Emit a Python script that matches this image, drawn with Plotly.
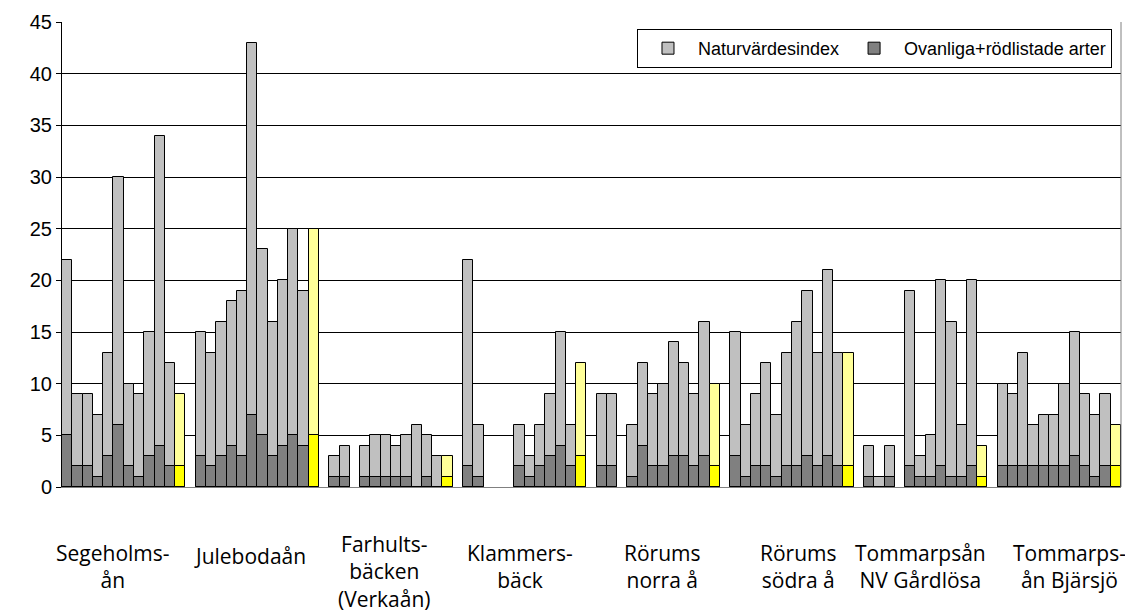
import plotly.graph_objects as go

# Naturvärdesindex / Ovanliga+rödlistade arter per lokal, None = tom plats
group_names = [
    "Segeholms-<br>ån",
    "Julebodaån",
    "Farhults-<br>bäcken<br>(Verkaån)",
    "Klammers-<br>bäck",
    "Rörums<br>norra å",
    "Rörums<br>södra å",
    "Tommarpsån<br>NV Gårdlösa",
    "Tommarps-<br>ån Bjärsjö",
]

seg_index = [22, 9, 9, 7, 13, 30, 10, 9, 15, 34, 12, 9]
seg_arter = [5, 2, 2, 1, 3, 6, 2, 1, 3, 4, 2, 2]
jul_index = [15, 13, 16, 18, 19, 43, 23, 16, 20, 25, 19, 25]
jul_arter = [3, 2, 3, 4, 3, 7, 5, 3, 4, 5, 4, 5]
far_index = [3, 4, None, 4, 5, 5, 4, 5, 6, 5, 3, 3]
far_arter = [1, 1, None, 1, 1, 1, 1, 1, 0, 1, 0, 1]
kla_index = [22, 6, None, None, None, 6, 3, 6, 9, 15, 6, 12]
kla_arter = [2, 1, None, None, None, 2, 1, 2, 3, 4, 2, 3]
rno_index = [9, 9, None, 6, 12, 9, 10, 14, 12, 9, 16, 10]
rno_arter = [2, 2, None, 1, 4, 2, 2, 3, 3, 2, 3, 2]
rso_index = [15, 6, 9, 12, 7, 13, 16, 19, 13, 21, 13, 13]
rso_arter = [3, 1, 2, 2, 1, 2, 2, 3, 2, 3, 2, 2]
tnv_index = [4, 1, 4, None, 19, 3, 5, 20, 16, 6, 20, 4]
tnv_arter = [1, 0, 1, None, 2, 1, 1, 2, 1, 1, 2, 1]
tbj_index = [10, 9, 13, 6, 7, 7, 10, 15, 9, 7, 9, 6]
tbj_arter = [2, 2, 2, 2, 2, 2, 2, 3, 2, 1, 2, 2]

index_groups = [seg_index, jul_index, far_index, kla_index,
                rno_index, rso_index, tnv_index, tbj_index]
arter_groups = [seg_arter, jul_arter, far_arter, kla_arter,
                rno_arter, rso_arter, tnv_arter, tbj_arter]

# label nudges (in bar slots) relative to the group centre
label_shift = [-1.0, -0.7, -0.6, -0.45, 0.4, 0.6, -0.5, 1.0]

# flatten groups into one category sequence with an empty slot between groups
xs, idx_vals, art_vals, idx_cols, art_cols, centers = [], [], [], [], [], []
pos = 0
for gi, (gidx, gart) in enumerate(zip(index_groups, arter_groups)):
    start = pos
    for i, (v, a) in enumerate(zip(gidx, gart)):
        last = i == len(gidx) - 1
        xs.append(pos)
        idx_vals.append(v)
        art_vals.append(a)
        idx_cols.append("#FFFF99" if last else "#C0C0C0")
        art_cols.append("#FFFF00" if last else "#808080")
        pos += 1
    centers.append((start + pos - 1) / 2)
    if gi < len(index_groups) - 1:
        pos += 1
n_slots = pos

fig = go.Figure()
fig.add_trace(go.Bar(
    x=xs, y=idx_vals, name="Naturvärdesindex",
    marker=dict(color=idx_cols, line=dict(color="black", width=1)),
))
fig.add_trace(go.Bar(
    x=xs, y=art_vals, name="Ovanliga+rödlistade arter",
    marker=dict(color=art_cols, line=dict(color="black", width=1)),
))

label_mid = {1: 556, 2: 566, 3: 571}  # centre of the label block, px from top
for c, sh, name in zip(centers, label_shift, group_names):
    nlines = name.count("<br>") + 1
    py = label_mid[nlines]
    fig.add_annotation(
        x=c + sh, xref="x", y=(487 - py) / 465, yref="paper",
        text=name, showarrow=False, xanchor="center", yanchor="middle",
        font=dict(family="Open Sans", size=21, color="black"),
    )

# right border of plot area
fig.add_shape(type="line", xref="paper", yref="paper", x0=1, x1=1, y0=0, y1=1,
              line=dict(color="#808080", width=1))

fig.update_layout(
    width=1125, height=614,
    margin=dict(l=62, r=4, t=22, b=127),
    plot_bgcolor="white", paper_bgcolor="white",
    barmode="overlay", bargap=0,
    font=dict(family="Liberation Sans", size=20, color="black"),
    showlegend=True,
    legend=dict(
        orientation="h", x=0.9915, xanchor="right", y=0.985, yanchor="top",
        bgcolor="white", bordercolor="black", borderwidth=1,
        font=dict(family="Liberation Sans", size=18, color="black"),
        traceorder="normal", itemwidth=50,
    ),
    xaxis=dict(
        range=[-0.5, n_slots - 0.5], showticklabels=False, ticks="",
        showgrid=False, zeroline=False,
        showline=True, linecolor="#808080", linewidth=1,
    ),
    yaxis=dict(
        range=[0, 45], dtick=5, tick0=0,
        showgrid=True, gridcolor="black", gridwidth=1,
        zeroline=False, showline=True, linecolor="black", linewidth=1,
        ticks="outside", ticklen=5, tickcolor="black",
    ),
)

# drop the default 8px page margin so the 1125x614 figure fills the window
fig.write_html(
    "out.html",
    config={"displayModeBar": False},
    post_script="document.body.style.margin='0';",
)
